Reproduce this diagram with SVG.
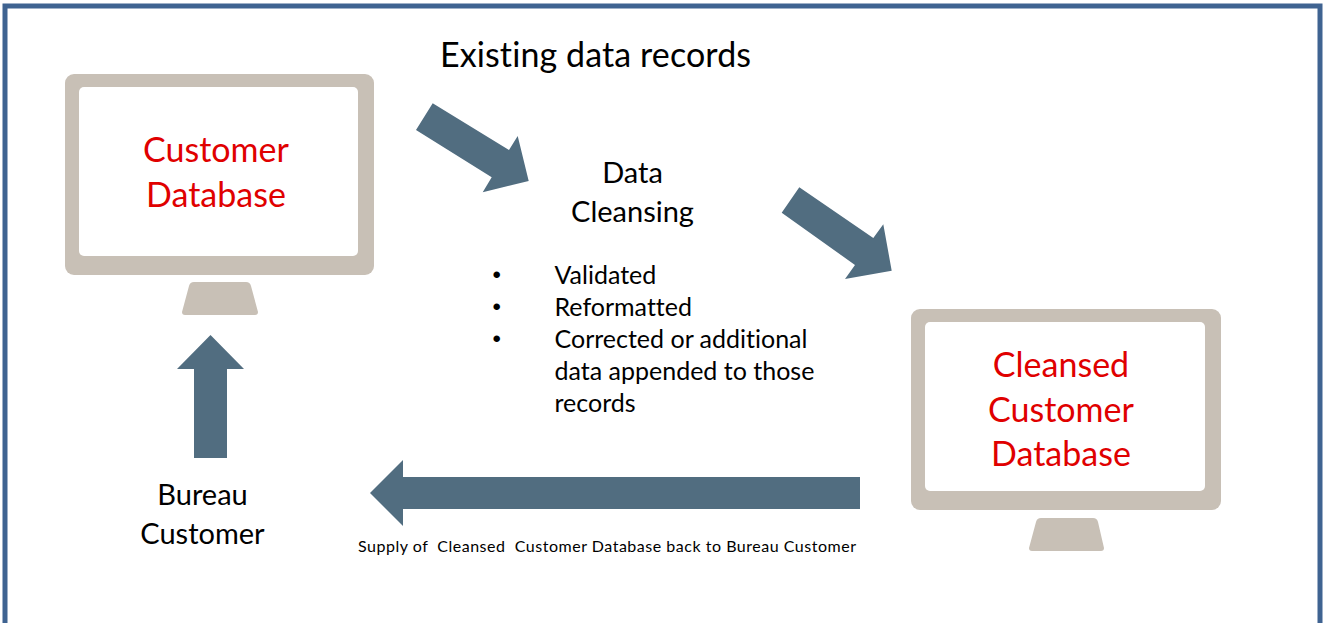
<svg xmlns="http://www.w3.org/2000/svg" width="1326" height="623" viewBox="0 0 1326 623">
<style>
text{font-family:"Lato","Carlito","Open Sans",sans-serif;fill:#000;font-variant-ligatures:none}
.red{fill:#e00000;font-size:34px;text-anchor:middle}
.mid{font-size:29px;text-anchor:middle}
.list{font-size:25px}
.dot{font-family:"Liberation Sans",sans-serif;font-size:24px}
.body{fill:#c8c0b6}
.screen{fill:#fff}
.arrow{fill:#516d80}
</style>
<rect width="1326" height="623" fill="#fff"/>
<path d="M5 630V6H1320V630" fill="none" stroke="#3f6391" stroke-width="5"/>
<g id="customer-database">
<rect class="body" x="65" y="74" width="309" height="201" rx="9"/>
<rect class="screen" x="79" y="87" width="279" height="169" rx="5"/>
<path class="body" d="M194 282H246Q250 282 251 286L258 312Q258 315 255 315H185Q182 315 182 312L189 286Q190 282 194 282Z"/>
<text class="red" x="216" y="162">Customer</text>
<text class="red" x="216" y="207">Database</text>
</g>
<g id="cleansed-customer-database">
<rect class="body" x="911" y="309" width="310" height="201" rx="9"/>
<rect class="screen" x="925" y="322" width="280" height="169" rx="5"/>
<path class="body" d="M1041 518H1093Q1097 518 1098 522L1104 548Q1104 551 1101 551H1032Q1029 551 1029 548L1036 522Q1037 518 1041 518Z"/>
<text class="red" x="1061" y="377">Cleansed</text>
<text class="red" x="1061" y="422">Customer</text>
<text class="red" x="1061" y="466">Database</text>
</g>
<g id="data-cleansing">
<text x="440" y="67" style="font-size:34px" textLength="311" lengthAdjust="spacing">Existing data records</text>
<text class="mid" x="632.500" y="183">Data</text>
<text class="mid" x="632.500" y="222">Cleansing</text>
<text class="dot" x="492.500" y="283">•</text>
<text class="list" x="554.500" y="283.500">Validated</text>
<text class="dot" x="492.500" y="315">•</text>
<text class="list" x="554.500" y="315.500">Reformatted</text>
<text class="dot" x="492.500" y="347">•</text>
<text class="list" x="554.500" y="347.500">Corrected or additional</text>
<text class="list" x="554.500" y="379.500">data appended to those</text>
<text class="list" x="554.500" y="411.500">records</text>
</g>
<g id="bureau-customer">
<text class="mid" x="202.500" y="505">Bureau</text>
<text class="mid" x="202.500" y="544">Customer</text>
</g>
<g id="connectors">
<polygon class="arrow" points="432.700,103.300 416,130 491.700,177.300 482.700,192.300 528.700,181 517.700,136 509,150"/>
<polygon class="arrow" points="799.300,187.300 781.700,212.700 855,265 845,279 891.700,270.700 883.300,224.300 873.300,238"/>
<polygon class="arrow" points="210.500,335 244,369 227,369 227,458 194,458 194,369 177,369"/>
<polygon class="arrow" points="370,493 403,460 403,477 860,477 860,509 403,509 403,526"/>
<text x="358" y="552" style="font-size:16px" textLength="498" lengthAdjust="spacing" xml:space="preserve">Supply of  Cleansed  Customer Database back to Bureau Customer</text>
</g>
</svg>
